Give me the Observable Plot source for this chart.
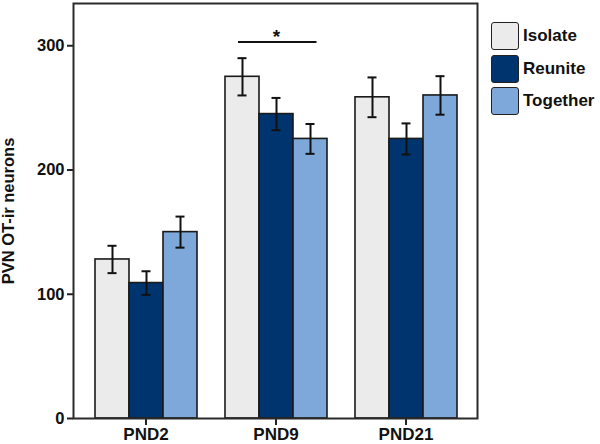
<!DOCTYPE html>
<html>
<head>
<meta charset="utf-8">
<script src="https://cdn.jsdelivr.net/npm/d3@7"></script>
<script src="https://cdn.jsdelivr.net/npm/@observablehq/plot@0.6"></script>
<style>
  html, body { margin: 0; padding: 0; background: #fff; }
  #wrap { position: relative; width: 600px; height: 444px; font-family: "Liberation Sans", Arial, sans-serif; }
  #wrap > svg { position: absolute; left: 0; top: 0; }
  #legend { position: absolute; left: 491px; top: 22px; }
  .row { display: flex; align-items: center; height: 28px; margin-bottom: 4.5px; }
  .sw { width: 26px; height: 26px; border: 1.5px solid #222; border-radius: 3px; box-sizing: content-box; }
  .lab { margin-left: 4px; font-size: 17px; font-weight: bold; color: #111; }
</style>
</head>
<body>
<div id="wrap"><div id="legend"></div></div>
<script>
const groups = ["PND2", "PND9", "PND21"];
const conditions = ["Isolate", "Reunite", "Together"];
const colors = ["#ebebeb", "#00346f", "#7ea8d9"];
const isolateMean = [128, 275, 258.5];
const reuniteMean = [109, 245, 225];
const togetherMean = [150, 225, 260];
const isolateSem = [11, 15, 16];
const reuniteSem = [9.5, 13, 12.5];
const togetherSem = [12.5, 12, 15.5];
const yTicks = [0, 100, 200, 300];
const sigGroup = ["PND9"];
const sigFrom = ["Isolate"];
const sigTo = ["Together"];
const sigMid = ["Reunite"];
const sigY = [303];
const sigLabel = ["*"];

const means = [isolateMean, reuniteMean, togetherMean];
const sems = [isolateSem, reuniteSem, togetherSem];
const rows = [];
groups.forEach((g, gi) => conditions.forEach((c, ci) => {
  rows.push({group: g, condition: c, mean: means[ci][gi], sem: sems[ci][gi]});
}));
const sig = sigGroup.map((g, i) => ({group: g, from: sigFrom[i], to: sigTo[i], mid: sigMid[i], y: sigY[i], label: sigLabel[i]}));

const common = {
  width: 600,
  height: 444,
  marginTop: 3,
  marginBottom: 26,
  marginLeft: 73,
  marginRight: 123,
  style: {fontFamily: "Liberation Sans, Arial, sans-serif", color: "#111", background: "transparent", overflow: "visible"}
};

const chart = Plot.plot({
  ...common,
  fx: {domain: groups, paddingInner: 0.211, paddingOuter: 0.153, label: null},
  x: {domain: conditions, padding: 0, axis: null},
  y: {domain: [0, 334], axis: null},
  color: {domain: conditions, range: colors},
  marks: [
    Plot.barY(rows, {fx: "group", x: "condition", y: "mean", fill: "condition", stroke: "#1a1a1a", strokeWidth: 1.6}),
    Plot.ruleX(rows, {fx: "group", x: "condition", y1: d => d.mean - d.sem, y2: d => d.mean + d.sem, stroke: "#111", strokeWidth: 2}),
    Plot.tickY(rows, {fx: "group", x: "condition", y: d => d.mean + d.sem, insetLeft: 12.5, insetRight: 12.5, stroke: "#111", strokeWidth: 2}),
    Plot.tickY(rows, {fx: "group", x: "condition", y: d => d.mean - d.sem, insetLeft: 12.5, insetRight: 12.5, stroke: "#111", strokeWidth: 2}),
    Plot.ruleY(sig, {fx: "group", x1: "from", x2: "to", y: "y", insetLeft: 13, insetRight: 10.5, stroke: "#111", strokeWidth: 2.2}),
    Plot.text(sig, {fx: "group", x: "mid", y: "y", text: "label", dy: -5, fontSize: 19, fontWeight: "bold", fill: "#111"}),
    Plot.axisFx({anchor: "bottom", tickSize: 7, tickPadding: 2, fontSize: 17, fontWeight: "bold", strokeWidth: 2, stroke: "#222", label: null})
  ]
});

const overlay = Plot.plot({
  ...common,
  y: {domain: [0, 334]},
  marks: [
    Plot.axisY({ticks: yTicks, tickSize: 6, tickPadding: 3, fontSize: 16.5, fontWeight: "bold", strokeWidth: 2, stroke: "#222",
      label: "PVN OT-ir neurons", labelAnchor: "center", labelArrow: "none", labelOffset: 71}),
    Plot.frame({stroke: "#2a2a2a", strokeWidth: 2})
  ]
});

const wrap = document.getElementById("wrap");
wrap.prepend(overlay);
wrap.prepend(chart);

const legend = document.getElementById("legend");
conditions.forEach((c, i) => {
  const row = document.createElement("div");
  row.className = "row";
  const sw = document.createElement("div");
  sw.className = "sw";
  sw.style.background = colors[i];
  const lab = document.createElement("div");
  lab.className = "lab";
  lab.textContent = c;
  row.append(sw, lab);
  legend.append(row);
});
</script>
</body>
</html>
